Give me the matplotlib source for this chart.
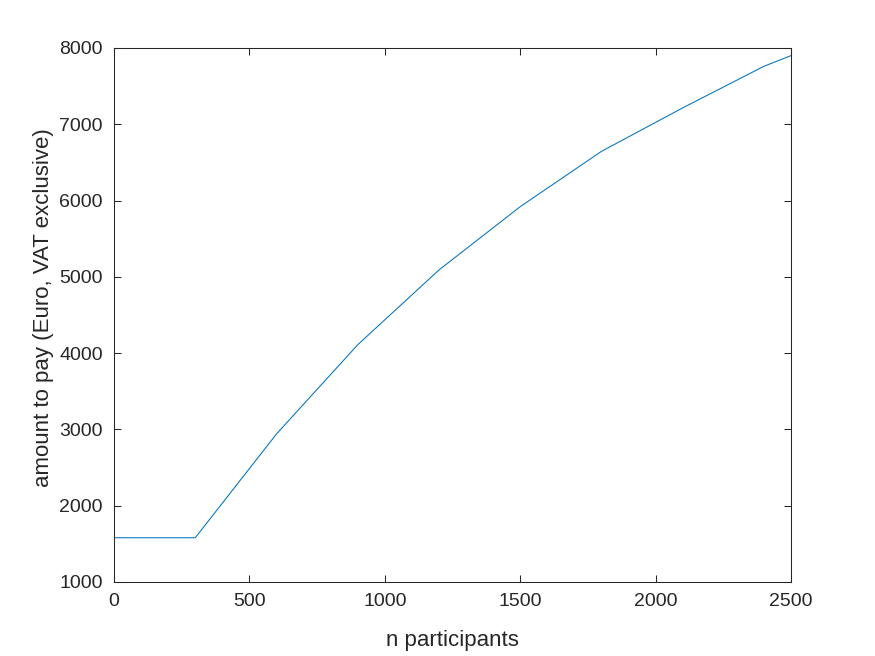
import matplotlib
matplotlib.use("Agg")
import matplotlib.pyplot as plt

n_participants = [0, 300, 600, 900, 1200, 1500, 1800, 2100, 2400, 2500]
amount = [1580, 1580, 2940, 4110, 5090, 5920, 6645, 7215, 7760, 7900]
x_ticks = [0, 500, 1000, 1500, 2000, 2500]
y_ticks = [1000, 2000, 3000, 4000, 5000, 6000, 7000, 8000]

plt.rcParams['font.family'] = ['Liberation Sans', 'DejaVu Sans']
dark = '#262626'

fig = plt.figure(figsize=(8.75, 6.56), dpi=100)
ax = fig.add_axes([114/875, 1 - 582/656, (791-114)/875, (582-48)/656])
ax.plot(n_participants, amount, color='#0072BD', linewidth=0.75)
ax.set_xlim(0, 2500)
ax.set_ylim(1000, 8000)
ax.set_xticks(x_ticks)
ax.set_yticks(y_ticks)
ax.tick_params(direction='in', length=5, width=0.75, colors=dark, labelsize=14,
               top=True, right=True)
ax.tick_params(axis='y', pad=8)
ax.tick_params(axis='x', pad=8)
for s in ax.spines.values():
    s.set_color(dark)
    s.set_linewidth(0.75)
ax.set_xlabel('n participants', fontsize=16, color=dark, labelpad=14)
ax.set_ylabel('amount to pay (Euro, VAT exclusive)', fontsize=16, color=dark)
ax.yaxis.set_label_coords(-0.088, 0.513)
fig.savefig('out.png', dpi=100)
